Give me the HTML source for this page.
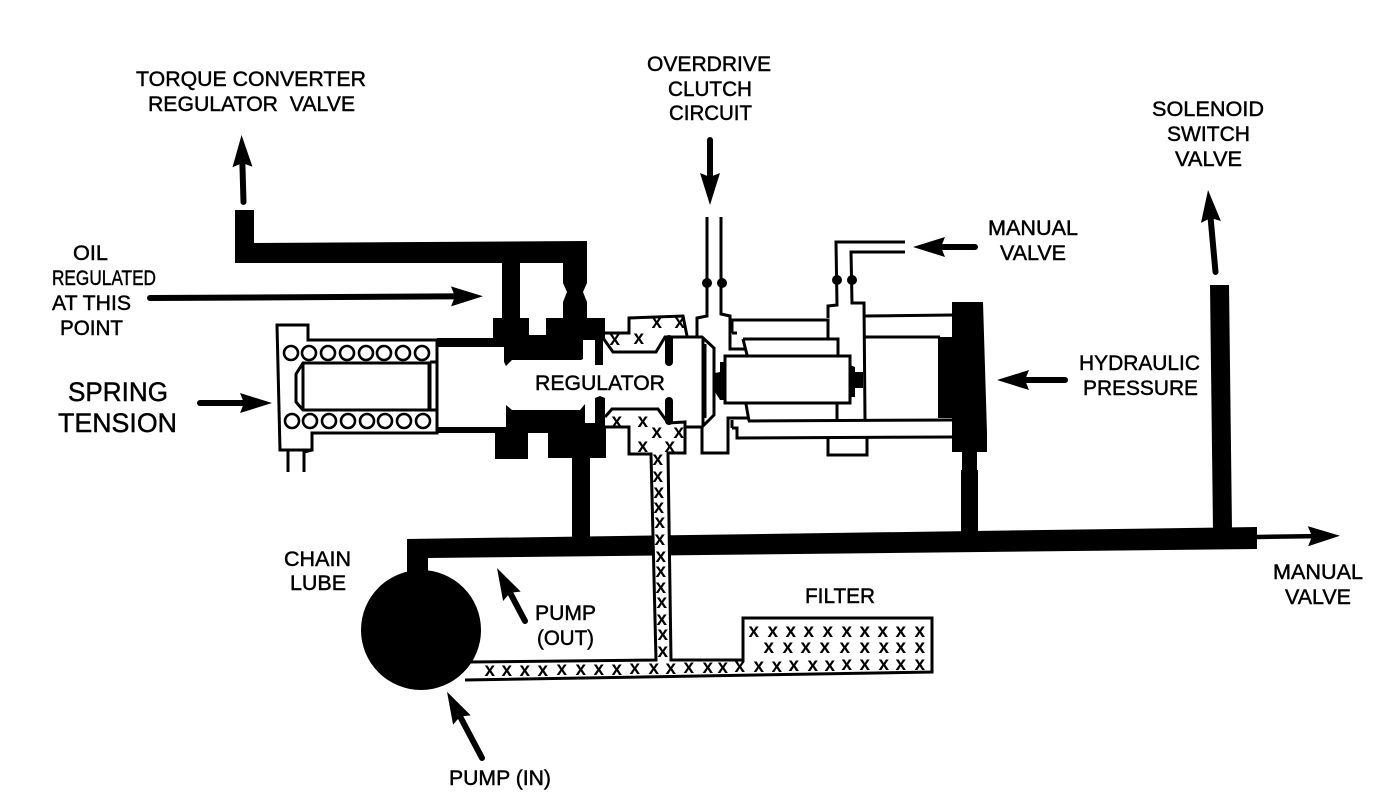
<!DOCTYPE html>
<html><head><meta charset="utf-8"><style>
html,body{margin:0;padding:0;background:#fff}
svg{display:block}
text{font-family:"Liberation Sans",sans-serif;fill:#000}
.lab text{stroke:#000;stroke-width:.45px}
</style></head><body>
<svg width="1392" height="802" viewBox="0 0 1392 802" xmlns="http://www.w3.org/2000/svg">
<rect width="1392" height="802" fill="#fff"/>
<defs><marker id="h" viewBox="0 0 32 20" refX="17" refY="10" markerWidth="32" markerHeight="20" markerUnits="userSpaceOnUse" orient="auto"><path d="M0 0 L32 10 L0 20 L4 10Z" fill="#000"/></marker></defs>

<!-- heavy pipes -->
<g fill="#000">
<path d="M235 210H254V243L587 241V263H235Z"/>
<rect x="502" y="255" width="18" height="70"/>
<path d="M563 255H587V283L583 292L587 302V325H563V302L567 292L563 283Z"/>
<rect x="493" y="318" width="36" height="20"/>
<path d="M546 318H605V338H603V365H595V340H585L583 340V338H546Z"/>
<path d="M504 335H583V359L581 360H512L506 366L504 362Z"/>
<path d="M437 338H504V347H437Z"/>
<path d="M506 405L512 410H580L585 404V423H595V398L600 396L605 398V428H606V458H590V540H572V458H548V433H528V459H495V433H437V427H506Z"/>
<rect x="665" y="335" width="8" height="31" rx="4"/>
<rect x="665" y="397" width="8" height="28" rx="4"/>
<path d="M407 539L1257 527V549L428 558V575H407Z"/>
<circle cx="421" cy="630" r="60"/>
<path d="M1210 285H1229L1232 530H1213Z"/>
<path d="M952 302H983L987 433V452H977V470H978V535H961V470H962V452H952V418H938V337H952Z"/>
<path d="M720 362H725V400H720L715 392L713 382L715 373L720 372Z"/>
<path d="M850 365L855 367V372H863V388H855V397L850 397Z"/>
<circle cx="707" cy="283" r="5"/><circle cx="722" cy="283" r="5"/>
<circle cx="837" cy="280" r="5"/><circle cx="852" cy="280" r="5"/>
</g>

<!-- xx pipe gap over main line -->
<path d="M651 455L656 660H670L668 455Z" fill="#fff"/>

<!-- thin outlines -->
<g fill="none" stroke="#000" stroke-width="3">
<path d="M277 325H308V340H437V433H312V450H280L277 325Z"/>
<path d="M288 451V472M304 472V452L312 450"/>
<path d="M303 363H429V410H303L296 402V374ZM303 363V410M430 362H437M430 410H437M430 362V410"/>
<g stroke-width="2.6">
<circle cx="291" cy="353" r="7"/><circle cx="309" cy="353" r="7"/><circle cx="328" cy="353" r="7"/><circle cx="347" cy="353" r="7"/><circle cx="366" cy="353" r="7"/><circle cx="384" cy="353" r="7"/><circle cx="403" cy="353" r="7"/><circle cx="422" cy="353" r="7"/>
<circle cx="292" cy="421" r="7"/><circle cx="310" cy="421" r="7"/><circle cx="329" cy="421" r="7"/><circle cx="348" cy="421" r="7"/><circle cx="367" cy="421" r="7"/><circle cx="385" cy="421" r="7"/><circle cx="404" cy="421" r="7"/><circle cx="423" cy="421" r="7"/>
</g>
<!-- upper xx chamber -->
<path d="M603 333H629V318L683 316L687 336"/>
<path d="M603 338L613 352H656L665 337H702L714 348V415L702 427H685"/>
<path d="M703 337V426M705 344V418"/>
<!-- lower xx chamber -->
<path d="M605 417L612 409H658L668 423L685 422V453H668L671 660H743V618H932V672L465 680"/>
<path d="M605 427H629V454H651L656 660L470 662"/>
<!-- ports -->
<path d="M707 217V316L697 318V336"/>
<path d="M721 217V314L730 316V349H745"/>
<path d="M732 333V320H828V338"/>
<path d="M732 333H737"/>
<path d="M743 339H838V356M743 339L747 355"/>
<rect x="725" y="356" width="125" height="47"/>
<path d="M746 404L749 421"/>
<path d="M702 427V453H728V418H749M748 421L953 420"/>
<path d="M732 428V420M732 428H737V438L953 437"/>
<path d="M837 403V420"/>
<path d="M828 438V455H867V438"/>
<path d="M905 242H836L837 305L828 306V318"/>
<path d="M905 252H851L852 303H864L865 420"/>
<path d="M865 316L953 315M865 337L940 337"/>
</g>

<!-- arrows -->
<g stroke="#000" stroke-width="6" stroke-linecap="round" fill="none">
<path d="M243.500 202L242 150" marker-end="url(#h)"/>
<path d="M710 140L710 190" marker-end="url(#h)"/>
<path d="M975 247L928 247" marker-end="url(#h)"/>
<path d="M1065 380L1012 380" marker-end="url(#h)"/>
<path d="M150 298L468 296.300" marker-end="url(#h)"/>
<path d="M200 403L257 403" marker-end="url(#h)"/>
<path d="M525 621L504 581.300" marker-end="url(#h)"/>
<path d="M482 758L454 705" marker-end="url(#h)"/>
<path d="M1215.500 272L1209.400 205" marker-end="url(#h)"/>
<path d="M1257 537L1325 536" stroke-width="4.500" marker-end="url(#h)"/>
</g>

<!-- x hatch -->
<g transform="translate(-5.5,5)" style="font-size:19px;font-weight:bold">
<text x="754 773 791 809 828 847 865 883 901 920" y="632">xxxxxxxxxx</text>
<text x="769 788 806 825 845 865 884 901 920" y="648">xxxxxxxxx</text>
<text x="490 507 525 543 562 581 599 617 635 654 671 689 708 723 740 759 777 794 813 830 847 865 884 901 920" y="671 671 671 671 670 670 670 670 669 669 669 668 668 668 667 667 667 666 666 666 665 665 665 665 665">xxxxxxxxxxxxxxxxxxxxxxxxx</text>
<text x="658 658 659 659 660 660 661 661 661 662 662 663 663" y="460 477 493 508 523 540 557 572 588 603 620 635 652">xxxxxxxxxxxxx</text>
<text x="615 639 657 680" y="340 339 323 323">xxxx</text>
<text x="617 643 657 679 643 670" y="422 422 433 433 447 447">xxxxxx</text>
</g>

<!-- labels -->
<g class="lab">
<text x="136" y="86" textLength="230" lengthAdjust="spacingAndGlyphs" font-size="21">TORQUE CONVERTER</text>
<text x="148" y="111" textLength="207" lengthAdjust="spacingAndGlyphs" font-size="21" xml:space="preserve">REGULATOR  VALVE</text>
<text x="647" y="71" textLength="124" lengthAdjust="spacingAndGlyphs" font-size="21">OVERDRIVE</text>
<text x="668" y="96" textLength="84" lengthAdjust="spacingAndGlyphs" font-size="21">CLUTCH</text>
<text x="669" y="120" textLength="83" lengthAdjust="spacingAndGlyphs" font-size="21">CIRCUIT</text>
<text x="1152" y="116" textLength="112" lengthAdjust="spacingAndGlyphs" font-size="21">SOLENOID</text>
<text x="1167" y="141" textLength="83" lengthAdjust="spacingAndGlyphs" font-size="21">SWITCH</text>
<text x="1175" y="166" textLength="67" lengthAdjust="spacingAndGlyphs" font-size="21">VALVE</text>
<text x="73" y="260" textLength="35" lengthAdjust="spacingAndGlyphs" font-size="21">OIL</text>
<text x="52" y="285" textLength="104" lengthAdjust="spacingAndGlyphs" font-size="21">REGULATED</text>
<text x="52" y="310" textLength="79" lengthAdjust="spacingAndGlyphs" font-size="21">AT THIS</text>
<text x="60" y="335" textLength="63" lengthAdjust="spacingAndGlyphs" font-size="21">POINT</text>
<text x="988" y="235" textLength="90" lengthAdjust="spacingAndGlyphs" font-size="21">MANUAL</text>
<text x="1000" y="260" textLength="66" lengthAdjust="spacingAndGlyphs" font-size="21">VALVE</text>
<text x="1079" y="370" textLength="121" lengthAdjust="spacingAndGlyphs" font-size="21">HYDRAULIC</text>
<text x="1083" y="395" textLength="115" lengthAdjust="spacingAndGlyphs" font-size="21">PRESSURE</text>
<text x="68" y="401" textLength="100" lengthAdjust="spacingAndGlyphs" font-size="27">SPRING</text>
<text x="58" y="432" textLength="119" lengthAdjust="spacingAndGlyphs" font-size="27">TENSION</text>
<text x="535" y="390" textLength="130" lengthAdjust="spacingAndGlyphs" font-size="21">REGULATOR</text>
<text x="284" y="566" textLength="67" lengthAdjust="spacingAndGlyphs" font-size="21">CHAIN</text>
<text x="290" y="590" textLength="56" lengthAdjust="spacingAndGlyphs" font-size="21">LUBE</text>
<text x="535" y="620" textLength="61" lengthAdjust="spacingAndGlyphs" font-size="21">PUMP</text>
<text x="537" y="645" textLength="57" lengthAdjust="spacingAndGlyphs" font-size="21">(OUT)</text>
<text x="805" y="603" textLength="70" lengthAdjust="spacingAndGlyphs" font-size="21">FILTER</text>
<text x="1273" y="579" textLength="90" lengthAdjust="spacingAndGlyphs" font-size="21">MANUAL</text>
<text x="1285" y="604" textLength="66" lengthAdjust="spacingAndGlyphs" font-size="21">VALVE</text>
<text x="449" y="785" textLength="102" lengthAdjust="spacingAndGlyphs" font-size="21">PUMP (IN)</text>
</g>
</svg>
</body></html>
